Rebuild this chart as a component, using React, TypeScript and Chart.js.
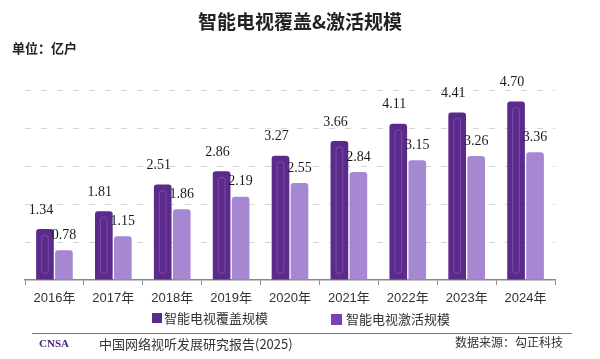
import React, { useEffect, useRef } from "react";
import { Chart, registerables } from "chart.js";

Chart.register(...registerables);

const title = "智能电视覆盖&激活规模";
const unitLabel = "单位：亿户";
const categories = ["2016年", "2017年", "2018年", "2019年", "2020年", "2021年", "2022年", "2023年", "2024年"];
const seriesNames = ["智能电视覆盖规模", "智能电视激活规模"];
const coverage = [1.34, 1.81, 2.51, 2.86, 3.27, 3.66, 4.11, 4.41, 4.7];
const activation = [0.78, 1.15, 1.86, 2.19, 2.55, 2.84, 3.15, 3.26, 3.36];
const footerLogo = "CNSA";
const footerReport = "中国网络视听发展研究报告(2025)";
const footerSource = "数据来源：勾正科技";

const DARK = "#5b2a8a";
const LIGHT = "#a687d2";
const LEGEND2 = "#7b40b4";
const CJK = '"Noto Sans CJK SC", "Liberation Sans", sans-serif';

const innerOutline = {
  id: "innerOutline",
  afterDatasetsDraw(chart: any) {
    const ctx = chart.ctx;
    const meta = chart.getDatasetMeta(0);
    ctx.save();
    ctx.strokeStyle = "rgba(165,125,215,0.4)";
    ctx.lineWidth = 1;
    meta.data.forEach((el: any) => {
      const w = el.width;
      const x0 = el.x - w / 2 + 5.5;
      const y0 = el.y + 6;
      const iw = w - 11;
      const ih = el.base - el.y - 12;
      if (ih > 4) {
        ctx.beginPath();
        (ctx as any).roundRect(x0, y0, iw, ih, 3);
        ctx.stroke();
      }
    });
    ctx.restore();
  },
};

const valueLabels = {
  id: "valueLabels",
  afterDatasetsDraw(chart: any) {
    const ctx = chart.ctx;
    ctx.save();
    ctx.font = '14px "Liberation Serif", serif';
    ctx.fillStyle = "#1a1a1a";
    ctx.textAlign = "center";
    ctx.textBaseline = "middle";
    chart.data.datasets.forEach((ds: any, di: number) => {
      const meta = chart.getDatasetMeta(di);
      meta.data.forEach((el: any, i: number) => {
        const v = ds.data[i];
        const txt = v.toFixed(2);
        if (di === 0) ctx.fillText(txt, el.x - 4, el.y - 19);
        else ctx.fillText(txt, el.x, el.y - 15);
      });
    });
    ctx.restore();
  },
};

const decor = {
  id: "decor",
  afterDraw(chart: any) {
    const ctx = chart.ctx;
    ctx.save();
    ctx.textBaseline = "middle";
    ctx.fillStyle = "#222";
    ctx.textAlign = "center";
    ctx.font = "bold 19px " + CJK;
    ctx.fillText(title, 300, 22);
    ctx.textAlign = "left";
    ctx.font = "bold 13px " + CJK;
    ctx.fillText(unitLabel, 12, 48);
    ctx.fillStyle = DARK;
    ctx.fillRect(152, 313, 10, 10);
    ctx.fillStyle = LEGEND2;
    ctx.fillRect(331, 314, 11, 11);
    ctx.fillStyle = "#333";
    ctx.font = "13px " + CJK;
    ctx.fillText(seriesNames[0], 164, 318);
    ctx.fillText(seriesNames[1], 346, 319);
    ctx.strokeStyle = "#777";
    ctx.lineWidth = 1;
    ctx.beginPath();
    ctx.moveTo(32, 333.5);
    ctx.lineTo(572, 333.5);
    ctx.stroke();
    ctx.fillStyle = "#4a2577";
    ctx.font = 'bold 11px "Liberation Serif", serif';
    ctx.fillText(footerLogo, 39, 344);
    ctx.fillStyle = "#333";
    ctx.font = "13px " + CJK;
    ctx.fillText(footerReport, 99, 344);
    ctx.textAlign = "right";
    ctx.font = "12px " + CJK;
    ctx.fillText(footerSource, 563, 342);
    ctx.restore();
  },
};

export default function App() {
  const ref = useRef<HTMLCanvasElement>(null);
  useEffect(() => {
    const chart = new Chart(ref.current as HTMLCanvasElement, {
      type: "bar",
      data: {
        labels: categories,
        datasets: [
          {
            label: seriesNames[0],
            data: coverage,
            backgroundColor: DARK,
            borderRadius: 3,
            borderSkipped: "start",
            categoryPercentage: 0.645,
            barPercentage: 0.93,
          },
          {
            label: seriesNames[1],
            data: activation,
            backgroundColor: LIGHT,
            borderRadius: 3,
            borderSkipped: "start",
            categoryPercentage: 0.645,
            barPercentage: 0.93,
          },
        ],
      },
      options: {
        responsive: false,
        animation: false,
        layout: { padding: { left: 25, right: 45, top: 90, bottom: 0 } },
        plugins: {
          legend: { display: false },
          tooltip: { enabled: false },
          title: { display: false },
        },
        scales: {
          x: {
            offset: true,
            grid: {
              display: true,
              drawOnChartArea: false,
              drawTicks: true,
              tickLength: 5,
              color: "#888",
              offset: true,
            },
            border: { display: true, color: "#888", width: 1.5 },
            ticks: {
              color: "#333",
              padding: 6,
              font: { size: 13, family: '"Liberation Sans", "Noto Sans CJK SC", sans-serif' },
              maxRotation: 0,
              autoSkip: false,
            },
            afterFit(scale: any) {
              scale.height = 79;
            },
          },
          y: {
            min: 0,
            max: 5,
            ticks: { display: false, stepSize: 1 },
            border: { display: false, dash: [6, 10] },
            grid: {
              drawTicks: false,
              color: (c: any) => (c.tick && c.tick.value === 0 ? "rgba(0,0,0,0)" : "#d6d6d6"),
              lineWidth: 1,
            },
            afterFit(scale: any) {
              scale.width = 0;
            },
          },
        },
      } as any,
      plugins: [innerOutline, valueLabels, decor],
    });
    return () => chart.destroy();
  }, []);
  return (
    <div style={{ position: "absolute", left: 0, top: 0, width: 600, height: 359, background: "#fff" }}>
      <canvas ref={ref} width={600} height={359} />
    </div>
  );
}
